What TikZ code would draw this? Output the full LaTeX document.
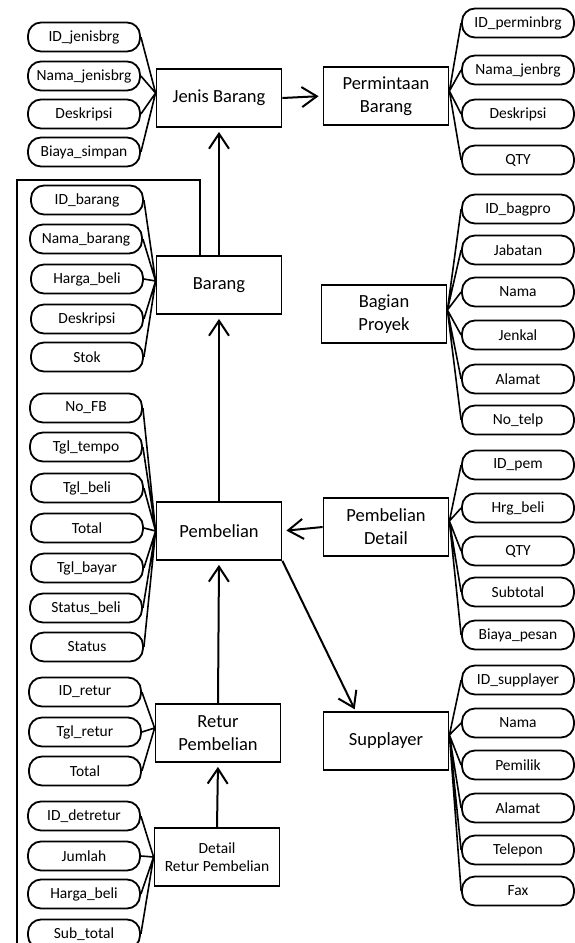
\documentclass[tikz,border=0pt]{standalone}
\usepackage{fontspec}
\setmainfont{Carlito}
\usetikzlibrary{arrows.meta,calc}

\tikzset{
  entity/.style={draw,line width=1.8pt,minimum width=125pt,minimum height=58pt,
    inner sep=2pt,align=center,font=\fontsize{18.5}{23}\selectfont},
  attr/.style={draw,line width=1.8pt,rounded corners=13pt,minimum width=112pt,
    minimum height=29pt,inner sep=1pt,font=\fontsize{15.5}{18}\selectfont},
  link/.style={line width=1.6pt},
  rel/.style={line width=2pt,-{Straight Barb[length=15pt,width=20pt]},shorten >=4pt},
}

\begin{document}
\begin{tikzpicture}[x=1pt,y=-1pt]
 \useasboundingbox (0,0) rectangle (575,943);
 % entities
 \node[entity] (jb) at (219,98) {Jenis Barang};
 \node[entity] (pb) at (386,96) {Permintaan\\Barang};
 \node[entity] (br) at (219,285) {Barang};
 \node[entity] (bp) at (384,314) {Bagian\\Proyek};
 \node[entity] (pm) at (219,531) {Pembelian};
 \node[entity] (pd) at (386,527) {Pembelian\\Detail};
 \node[entity] (sp) at (386,741) {Supplayer};
 \node[entity] (rp) at (218,733) {Retur\\Pembelian};
 \node[entity,font=\fontsize{15.5}{18}\selectfont] (dr) at (217,857) {Detail\\Retur Pembelian};
 %
 \node[attr] (jb1) at (84,37) {ID\_jenisbrg};
 \node[attr] (jb2) at (84,76) {Nama\_jenisbrg};
 \node[attr] (jb3) at (84,114) {Deskripsi};
 \node[attr] (jb4) at (84,152) {Biaya\_simpan};
 %
 \node[attr] (pb1) at (518,23) {ID\_perminbrg};
 \node[attr] (pb2) at (518,70) {Nama\_jenbrg};
 \node[attr] (pb3) at (518,114) {Deskripsi};
 \node[attr] (pb4) at (518,160) {QTY};
 %
 \node[attr] (br1) at (87,200) {ID\_barang};
 \node[attr] (br2) at (86,239) {Nama\_barang};
 \node[attr] (br3) at (87,279) {Harga\_beli};
 \node[attr] (br4) at (87,319) {Deskripsi};
 \node[attr] (br5) at (87,357) {Stok};
 %
 \node[attr] (bp1) at (518,209) {ID\_bagpro};
 \node[attr] (bp2) at (518,250) {Jabatan};
 \node[attr] (bp3) at (518,292) {Nama};
 \node[attr] (bp4) at (518,335) {Jenkal};
 \node[attr] (bp5) at (518,379) {Alamat};
 \node[attr] (bp6) at (518,420) {No\_telp};
 %
 \node[attr] (pm1) at (86,408) {No\_FB};
 \node[attr] (pm2) at (86,447) {Tgl\_tempo};
 \node[attr] (pm3) at (87,488) {Tgl\_beli};
 \node[attr] (pm4) at (87,528) {Total};
 \node[attr] (pm5) at (87,568) {Tgl\_bayar};
 \node[attr] (pm6) at (86,608) {Status\_beli};
 \node[attr] (pm7) at (87,647) {Status};
 %
 \node[attr] (pd1) at (518,465) {ID\_pem};
 \node[attr] (pd2) at (518,508) {Hrg\_beli};
 \node[attr] (pd3) at (518,551) {QTY};
 \node[attr] (pd4) at (518,592) {Subtotal};
 \node[attr] (pd5) at (518,635) {Biaya\_pesan};
 %
 \node[attr] (sp1) at (518,680) {ID\_supplayer};
 \node[attr] (sp2) at (518,723) {Nama};
 \node[attr] (sp3) at (518,765) {Pemilik};
 \node[attr] (sp4) at (518,808) {Alamat};
 \node[attr] (sp5) at (518,850) {Telepon};
 \node[attr] (sp6) at (518,891) {Fax};
 %
 \node[attr] (rp1) at (85,692) {ID\_retur};
 \node[attr] (rp2) at (85,732) {Tgl\_retur};
 \node[attr] (rp3) at (85,771) {Total};
 %
 \node[attr] (dr1) at (84,816) {ID\_detretur};
 \node[attr] (dr2) at (84,856) {Jumlah};
 \node[attr] (dr3) at (84,894) {Harga\_beli};
 \node[attr] (dr4) at (84,934) {Sub\_total};
 % attribute links
 \draw[link] ([yshift=5pt]jb.west) -- (jb1.east) ([yshift=5pt]jb.west) -- (jb2.east)
   ([yshift=5pt]jb.west) -- (jb3.east) ([yshift=5pt]jb.west) -- (jb4.east);
 \draw[link] ([yshift=5pt]pb.east) -- (pb1.west) ([yshift=5pt]pb.east) -- (pb2.west)
   ([yshift=5pt]pb.east) -- (pb3.west) ([yshift=5pt]pb.east) -- (pb4.west);
 \draw[link] ([yshift=4pt]br.west) -- (br1.east) ([yshift=4pt]br.west) -- (br2.east)
   ([yshift=4pt]br.west) -- (br3.east) ([yshift=4pt]br.west) -- (br4.east)
   ([yshift=4pt]br.west) -- (br5.east);
 \draw[link] ([yshift=4pt]bp.east) -- (bp1.west) ([yshift=4pt]bp.east) -- (bp2.west)
   ([yshift=4pt]bp.east) -- (bp3.west) ([yshift=4pt]bp.east) -- (bp4.west)
   ([yshift=4pt]bp.east) -- (bp5.west) ([yshift=4pt]bp.east) -- (bp6.west);
 \draw[link] (pm.west) -- (pm1.east) (pm.west) -- (pm2.east) (pm.west) -- (pm3.east)
   (pm.west) -- (pm4.east) (pm.west) -- (pm5.east) (pm.west) -- (pm6.east)
   (pm.west) -- (pm7.east);
 \draw[link] ([yshift=6pt]pd.east) -- (pd1.west) ([yshift=6pt]pd.east) -- (pd2.west)
   ([yshift=6pt]pd.east) -- (pd3.west) ([yshift=6pt]pd.east) -- (pd4.west)
   ([yshift=6pt]pd.east) -- (pd5.west);
 \draw[link] ([yshift=6pt]sp.east) -- (sp1.west) ([yshift=6pt]sp.east) -- (sp2.west)
   ([yshift=6pt]sp.east) -- (sp3.west) ([yshift=6pt]sp.east) -- (sp4.west)
   ([yshift=6pt]sp.east) -- (sp5.west) ([yshift=6pt]sp.east) -- (sp6.west);
 \draw[link] ([yshift=5pt]rp.west) -- (rp1.east) ([yshift=5pt]rp.west) -- (rp2.east)
   ([yshift=5pt]rp.west) -- (rp3.east);
 \draw[link] (dr.west) -- (dr1.east) (dr.west) -- (dr2.east) (dr.west) -- (dr3.east)
   (dr.west) -- (dr4.east);
 % relations
 \draw[rel] (br.north) -- (jb.south);
 \draw[rel] (jb.east) -- (pb.west);
 \draw[rel] (pm.north) -- (br.south);
 \draw[rel] (pd.west) -- (pm.east);
 \draw[rel,shorten >=2pt] (pm.south east) -- ($(sp.north west)!0.26!(sp.north east)$);
 \draw[rel] (rp.north) -- (pm.south);
 \draw[rel] (dr.north) -- (rp.south);
 % side line from Barang
 \coordinate (c1) at (200,180);
 \coordinate (c2) at (17,180);
 \coordinate (c3) at (17,943);
 \draw[line width=1.2pt] (br.north -| c1) -- (c1) -- (c2) -- (c3);
\end{tikzpicture}
\end{document}
